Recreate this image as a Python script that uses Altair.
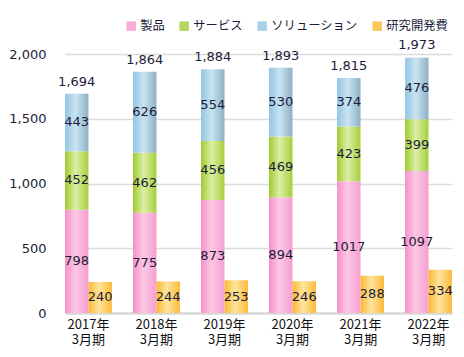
import altair as alt
import pandas as pd

years = ["2017年3月期", "2018年3月期", "2019年3月期", "2020年3月期", "2021年3月期", "2022年3月期"]
product = [798, 775, 873, 894, 1017, 1097]
service = [452, 462, 456, 469, 423, 399]
solution = [443, 626, 554, 530, 374, 476]
rnd = [240, 244, 253, 246, 288, 334]
totals = [1694, 1864, 1884, 1893, 1815, 1973]

series_names = ["製品", "サービス", "ソリューション", "研究開発費"]
legend_colors = ["#f8acd6", "#b6d75e", "#a9d0e6", "#fcc75a"]
grad_stops = {
    "製品": ["#f590c8", "#fcc8e4", "#f59fd1"],
    "サービス": ["#a0cb2e", "#dcefa5", "#a6cf3c"],
    "ソリューション": ["#93c5e3", "#c9e4f2", "#8cb1c4"],
    "研究開発費": ["#fab834", "#fee49c", "#fbbb3a"],
}

rows = []
for i, yr in enumerate(years):
    base = 0
    for name, vals in zip(series_names[:3], [product, service, solution]):
        v = vals[i]
        rows.append(dict(year=yr, series=name, kind="a", value=v, y0=base, y1=base + v, mid=base + v / 2))
        base += v
    v = rnd[i]
    rows.append(dict(year=yr, series="研究開発費", kind="b", value=v, y0=0, y1=v, mid=v / 2))
df = pd.DataFrame(rows)
tot = pd.DataFrame(dict(year=years, total=totals, kind=["a"] * len(years)))

TXT = "#1c1c3a"
xenc = alt.X("year:N", sort=years, scale=alt.Scale(paddingInner=0.31, paddingOuter=0),
             axis=alt.Axis(title=None, labelAngle=0, ticks=False, domainColor="#d9d9d9", domainWidth=2.5,
                           labelPadding=5, labelFont="Noto Sans CJK JP", labelFontSize=13, labelColor="#111",
                           labelLineHeight=15,
                           labelExpr="[substring(datum.label,0,5), substring(datum.label,5)]"))
xoff = alt.XOffset("kind:N", scale=alt.Scale(domain=["a", "b"], paddingInner=0, paddingOuter=0))
yscale = alt.Scale(domain=[0, 2000])
yaxis = alt.Axis(title=None, values=[0, 500, 1000, 1500, 2000], domain=False, ticks=False,
                 labelExpr="format(datum.value, ',')",
                 gridColor="#dcdcdc", gridWidth=1.5, labelPadding=19, labelFont="DejaVu Sans",
                 labelFontSize=13, labelColor=TXT)


def Y(field):
    return alt.Y(field, scale=yscale, axis=yaxis)


def grad(cols):
    return alt.Gradient(gradient="linear", x1=0, x2=1, y1=0, y2=0,
                        stops=[alt.GradientStop(color=cols[0], offset=0),
                               alt.GradientStop(color=cols[1], offset=0.45),
                               alt.GradientStop(color=cols[2], offset=1)])


layers = []
for name in series_names:
    layers.append(
        alt.Chart(df[df.series == name]).mark_bar(color=grad(grad_stops[name])).encode(
            x=xenc, xOffset=xoff, y=Y("y0:Q"), y2="y1:Q",
        )
    )

legend_layer = alt.Chart(df).mark_square(opacity=0).encode(
    x=xenc, xOffset=xoff, y=Y("mid:Q"),
    color=alt.Color("series:N", scale=alt.Scale(domain=series_names, range=legend_colors),
                    legend=alt.Legend(title=None, orient="none", legendX=60, legendY=-34, direction="horizontal",
                                      columns=4, gridAlign="none",
                                      symbolType="square", symbolSize=90, symbolOpacity=1, symbolStrokeWidth=0,
                                      labelFont="Noto Sans CJK JP", labelFontSize=12.3, labelColor=TXT,
                                      columnPadding=13, labelOffset=3)),
)

vals = alt.Chart(df).mark_text(font="DejaVu Sans", fontSize=13, color=TXT).encode(
    x=xenc, xOffset=xoff, y=Y("mid:Q"), text=alt.Text("value:Q"))

tots = alt.Chart(tot).mark_text(font="DejaVu Sans", fontSize=13, color=TXT, baseline="bottom", dy=-5).encode(
    x=xenc, xOffset=xoff, y=Y("total:Q"), text=alt.Text("total:Q", format=","))

chart = alt.layer(*layers, legend_layer, vals, tots).properties(
    width=387, height=259,
    autosize=alt.AutoSizeParams(type="none"),
    padding={"left": 57, "top": 46, "right": 4, "bottom": 36},
).configure_view(stroke=None)

chart.save("out.html", embed_options={"renderer": "svg", "actions": False})
